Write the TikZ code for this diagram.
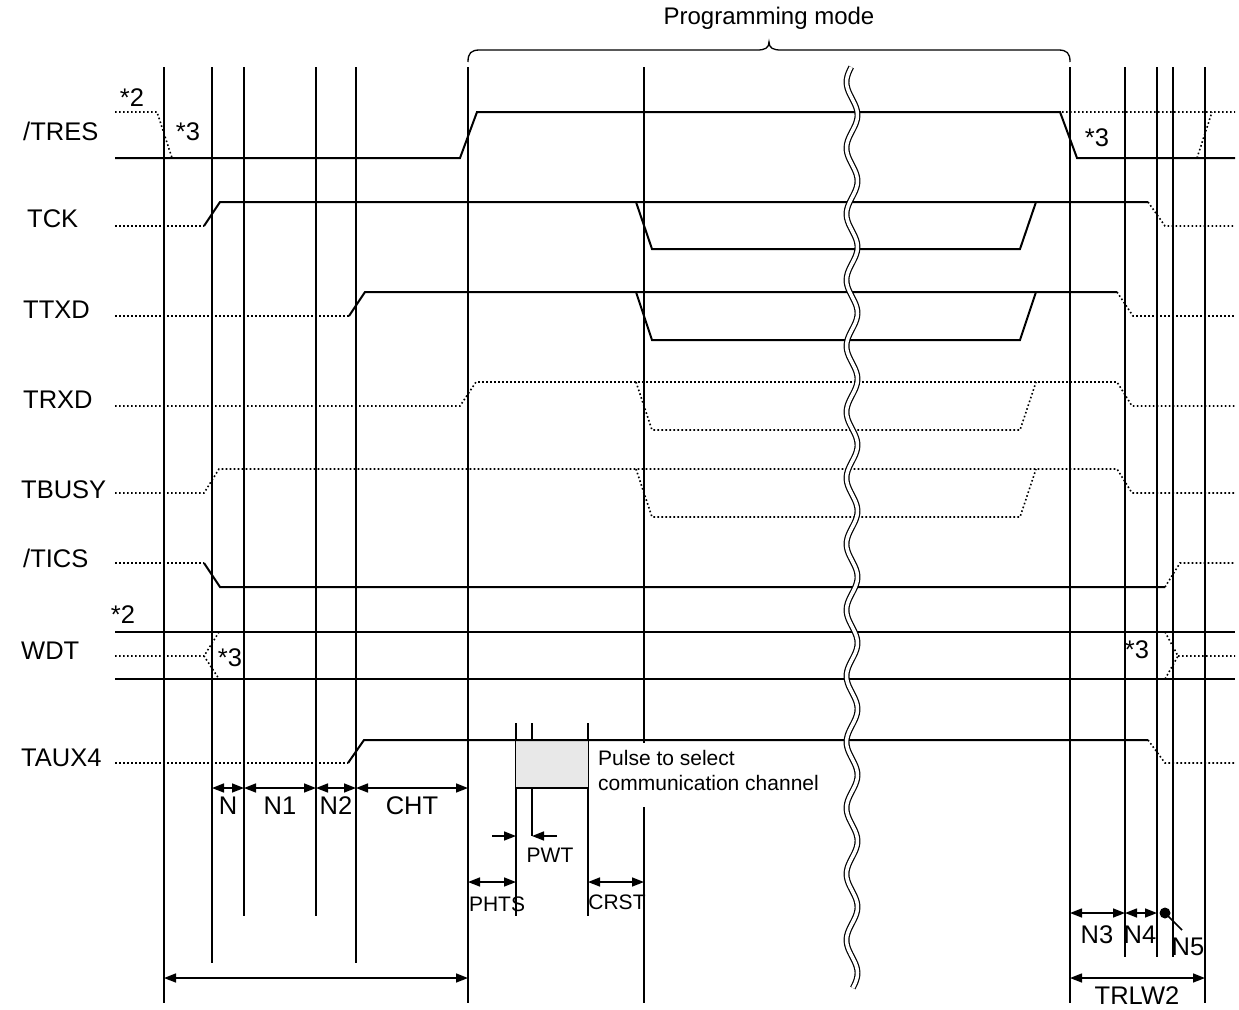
\documentclass[tikz,border=0pt]{standalone}
\usepackage{fontspec}
\setmainfont{Liberation Sans}
\usetikzlibrary{arrows.meta}
\begin{document}
\begin{tikzpicture}[x=1pt,y=-1pt,
  vline/.style={line width=1.3pt},
  sig/.style={line width=2pt},
  dotsig/.style={line width=1.6pt,dash pattern=on 1.6pt off 2.4pt},
  dim/.style={line width=1.5pt,{Triangle[length=12pt,width=9pt]}-{Triangle[length=12pt,width=9pt]}},
  lab/.style={inner sep=0pt,font=\fontsize{25.5}{30}\selectfont},
  smalllab/.style={inner sep=0pt,font=\fontsize{21}{25}\selectfont}]
\useasboundingbox (0,0) rectangle (1239,1009);
% mode brace
\node[lab,font=\fontsize{24}{28}\selectfont] (mode) at (769,18) {Programming mode};
\draw[line width=1.3pt] (468,62) .. controls (468,53) and (471,50) .. (480,50) -- (757,50)
  .. controls (765,50) and (769,48) .. (769,42) .. controls (769,48) and (773,50) .. (781,50)
  -- (1058,50) .. controls (1067,50) and (1070,53) .. (1070,62);
% time marks
\foreach \x/\b in {164/1003,212/963,316/916,356/963,468/1003,1070/1003,1125/957,1157/957,1173/957,1205/1003}
  \draw[vline] (\x,67) -- (\x,\b);
\draw[line width=1.8pt] (244,67) -- (244,916);
\draw[vline] (644,67) -- (644,743) (644,807) -- (644,1003);
\draw[vline] (516,723) -- (516,916) (532,723) -- (532,836) (588,723) -- (588,916);
% signal names
\node[lab,anchor=west] (tres) at (23,131) {/TRES};
\node[lab,anchor=west] (tck) at (27,219) {TCK};
\node[lab,anchor=west] (ttxd) at (23,310) {TTXD};
\node[lab,anchor=west] (trxd) at (23,400) {TRXD};
\node[lab,anchor=west] (tbusy) at (21,490) {TBUSY};
\node[lab,anchor=west] (tics) at (23,558) {/TICS};
\node[lab,anchor=west] (wdt) at (21,651) {WDT};
\node[lab,anchor=west] (taux) at (21,758) {TAUX4};
% /TRES
\draw[sig] (115,158) -- (460,158) -- (477,112) -- (1060,112) -- (1077,158) -- (1235,158);
\draw[dotsig] (115,112) -- (157,112) -- (172,158);
\draw[dotsig] (1062,112) -- (1235,112) (1197,158) -- (1212,112);
\node[lab] (n2a) at (132,98) {*2};
\node[lab] (n3a) at (188,132) {*3};
\node[lab] (n3b) at (1097,138) {*3};
% TCK
\draw[dotsig] (115,226) -- (204,226);
\draw[sig] (204,226) -- (220,202) -- (1148,202);
\draw[sig] (636,202) -- (652,249) -- (1020,249) -- (1036,202);
\draw[dotsig] (1148,202) -- (1165,226) -- (1235,226);
% TTXD
\draw[dotsig] (115,316) -- (349,316);
\draw[sig] (349,316) -- (365,292) -- (1117,292);
\draw[sig] (636,292) -- (652,340) -- (1020,340) -- (1036,292);
\draw[dotsig] (1117,292) -- (1133,316) -- (1235,316);
% TRXD
\draw[dotsig] (115,406) -- (460,406) -- (476,382) -- (1117,382) -- (1132,406) -- (1235,406);
\draw[dotsig] (636,382) -- (652,430) -- (1020,430) -- (1036,382);
% TBUSY
\draw[dotsig] (115,493) -- (204,493) -- (219,469) -- (1117,469) -- (1132,493) -- (1235,493);
\draw[dotsig] (636,469) -- (652,517) -- (1020,517) -- (1036,469);
% /TICS
\draw[dotsig] (115,563) -- (204,563);
\draw[sig] (204,563) -- (220,587) -- (1165,587);
\draw[dotsig] (1165,587) -- (1180,563) -- (1235,563);
% WDT
\draw[sig] (115,632) -- (1235,632) (115,679) -- (1235,679);
\draw[dotsig] (115,656) -- (204,656) (219,632) -- (204,656) -- (219,679);
\draw[dotsig] (1165,632) -- (1178,656) -- (1165,679) (1178,656) -- (1235,656);
\node[lab] (n2b) at (123,615) {*2};
\node[lab] (n3c) at (230,658) {*3};
\node[lab] (n3d) at (1137,650) {*3};
% TAUX4
\fill[gray!18] (516,740) rectangle (588,788);
\draw[dotsig] (115,763) -- (348,763);
\draw[sig] (348,763) -- (364,740) -- (1148,740);
\draw[dotsig] (1148,740) -- (1165,763) -- (1235,763);
\draw[sig] (516,788) -- (588,788);
\node[smalllab,anchor=north west,align=left] (pulse) at (598,750) {Pulse to select\\communication channel};
% break
\draw[line width=1.2pt,double=white,double distance=3.5pt]
  plot[domain=67:988,samples=300,smooth] ({852+5.5*sin((\x-67)/66*360+188)},\x);
% timings
\draw[dim] (212,788) -- (244,788);
\draw[dim] (244,788) -- (316,788);
\draw[dim] (316,788) -- (356,788);
\draw[dim] (356,788) -- (468,788);
\node[lab] (tn) at (228,806) {N};
\node[lab] (tn1) at (280,806) {N1};
\node[lab] (tn2) at (336,806) {N2};
\node[lab] (tcht) at (412,806) {CHT};
\draw[dim] (164,978) -- (468,978);
\draw[line width=1.5pt,-{Triangle[length=12pt,width=9pt]}] (492,836) -- (516,836);
\draw[line width=1.5pt,-{Triangle[length=12pt,width=9pt]}] (557,836) -- (532,836);
\node[smalllab] (pwt) at (550,855) {PWT};
\draw[dim] (468,882) -- (516,882);
\node[smalllab] (phts) at (497,904) {PHTS};
\draw[dim] (588,882) -- (644,882);
\node[smalllab] (crst) at (617,902) {CRST};
\draw[dim] (1070,913) -- (1125,913);
\draw[dim] (1125,913) -- (1157,913);
\node[lab] (tn3) at (1097,935) {N3};
\node[lab] (tn4) at (1140,935) {N4};
\fill (1165,913) circle (5.5pt);
\draw[line width=1.5pt] (1165,913) -- (1182,930);
\node[lab] (tn5) at (1188,947) {N5};
\draw[dim] (1070,978) -- (1205,978);
\node[lab] (trlw) at (1137,996) {TRLW2};
\end{tikzpicture}
\end{document}
